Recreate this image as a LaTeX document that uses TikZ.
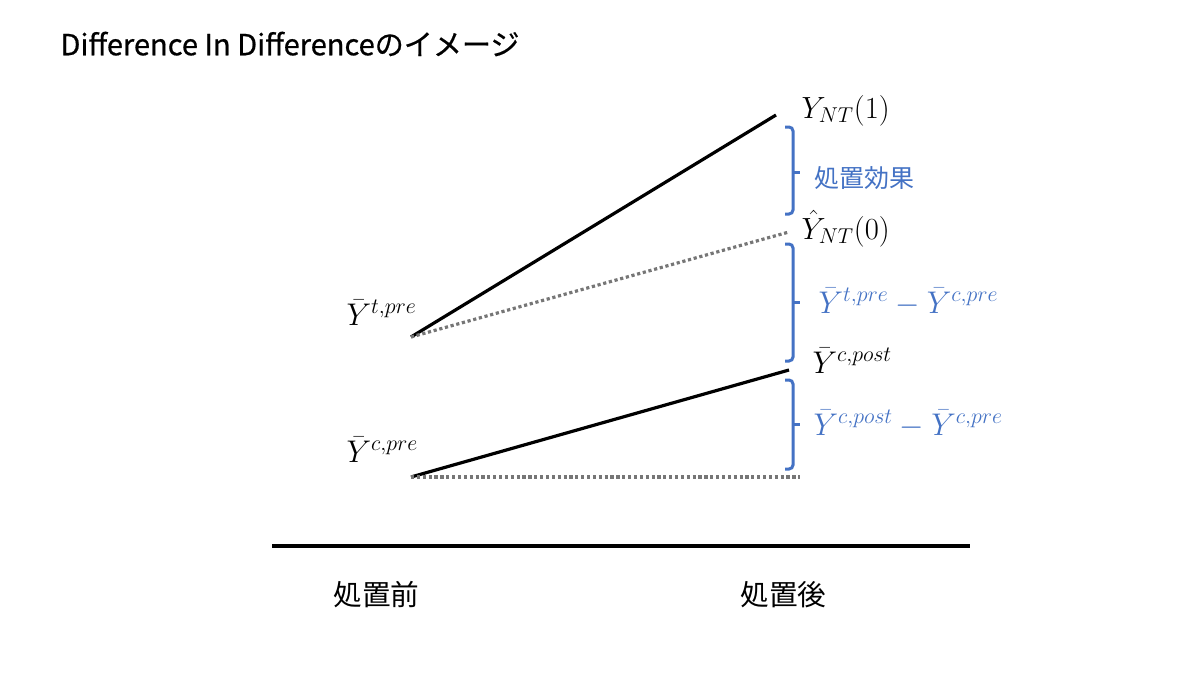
\RequirePackage{fix-cm}
\documentclass[tikz,border=0pt]{standalone}
\usepackage{fontspec}
\newfontfamily\jpfont{Noto Sans CJK JP}
\newfontfamily\titlefont[FakeBold=0.6]{Noto Sans CJK JP}
\definecolor{bracecol}{RGB}{68,114,196}
\definecolor{dotcol}{RGB}{118,118,118}
\tikzset{every picture/.style={line width=0.75pt}}
\tikzset{
  trend/.style={line width=2.4pt, color=black},
  guess/.style={line width=2.4pt, color=dotcol, dash pattern=on 2.4pt off 2pt},
  bracket/.style={line width=2.25pt, color=bracecol, rounded corners=3pt},
  mathlbl/.style={anchor=base west, inner sep=0pt, font=\fontsize{23.5}{27}\selectfont},
  jplbl/.style={anchor=west, inner sep=0pt, font=\jpfont\fontsize{21.5}{24}\selectfont}
}

\begin{document}
\begin{tikzpicture}[x=0.75pt,y=0.75pt,yscale=-1,xscale=1]
		\useasboundingbox (0,0) rectangle (1200,675);

		%Points
		\coordinate (tpre) at (411,337);
		\coordinate (tpost) at (776,115);
		\coordinate (tcf) at (789,232);
		\coordinate (cpre) at (411,477);
		\coordinate (cpost) at (789,370);
		\coordinate (cbase) at (800,477);
		\coordinate (axl) at (272,546);
		\coordinate (axr) at (970,546);

		%Straight Lines
		\draw [trend] (tpre) -- (tpost) ;
		\draw [guess] (tpre) -- (tcf) ;
		\draw [trend] (cpre) -- (cpost) ;
		\draw [guess] (cpre) -- (cbase) ;
		%Axis
		\draw [line width=2.4pt] (axl) -- (axr) ;

		%Brackets
		\draw [bracket] (785,127) -- (793,127) -- (793,214) -- (785,214) ;
		\draw [bracket] (793,172) -- (800,172) ;
		\draw [bracket] (785,244) -- (793,244) -- (793,361) -- (785,361) ;
		\draw [bracket] (793,302) -- (800,302) ;
		\draw [bracket] (785,380) -- (793,380) -- (793,469) -- (785,469) ;
		\draw [bracket] (793,424) -- (800,424) ;

		% Text Node
		\node (title) [anchor=west, inner sep=0pt, font=\titlefont\fontsize{21.8}{24}\selectfont] at (60,44) {Difference In Differenceのイメージ};
		% Text Node
		\node (ynt1) [mathlbl, font=\fontsize{23}{27}\selectfont] at (801,118) {$Y_{NT}(1)$};
		% Text Node
		\node (effect) [jplbl, color=bracecol, font=\jpfont\fontsize{18.75}{22}\selectfont] at (814,178) {処置効果};
		% Text Node
		\node (ynt0) [mathlbl, font=\fontsize{23}{27}\selectfont] at (801,239) {$\hat{Y}_{NT}(0)$};
		% Text Node
		\node (gap) [mathlbl, color=bracecol] at (818,313) {$\bar{Y}^{t,pre}-\bar{Y}^{c,pre}$};
		% Text Node
		\node (ycpost) [mathlbl] at (812,373) {$\bar{Y}^{c,post}$};
		% Text Node
		\node (trendlbl) [mathlbl, color=bracecol] at (813,435) {$\bar{Y}^{c,post}-\bar{Y}^{c,pre}$};
		% Text Node
		\node (ytpre) [mathlbl] at (346,325) {$\bar{Y}^{t,pre}$};
		% Text Node
		\node (ycpre) [mathlbl] at (346,462) {$\bar{Y}^{c,pre}$};
		% Text Node
		\node (before) [jplbl] at (333,595) {処置前};
		% Text Node
		\node (after) [jplbl] at (740,595) {処置後};

	\end{tikzpicture}
\end{document}
